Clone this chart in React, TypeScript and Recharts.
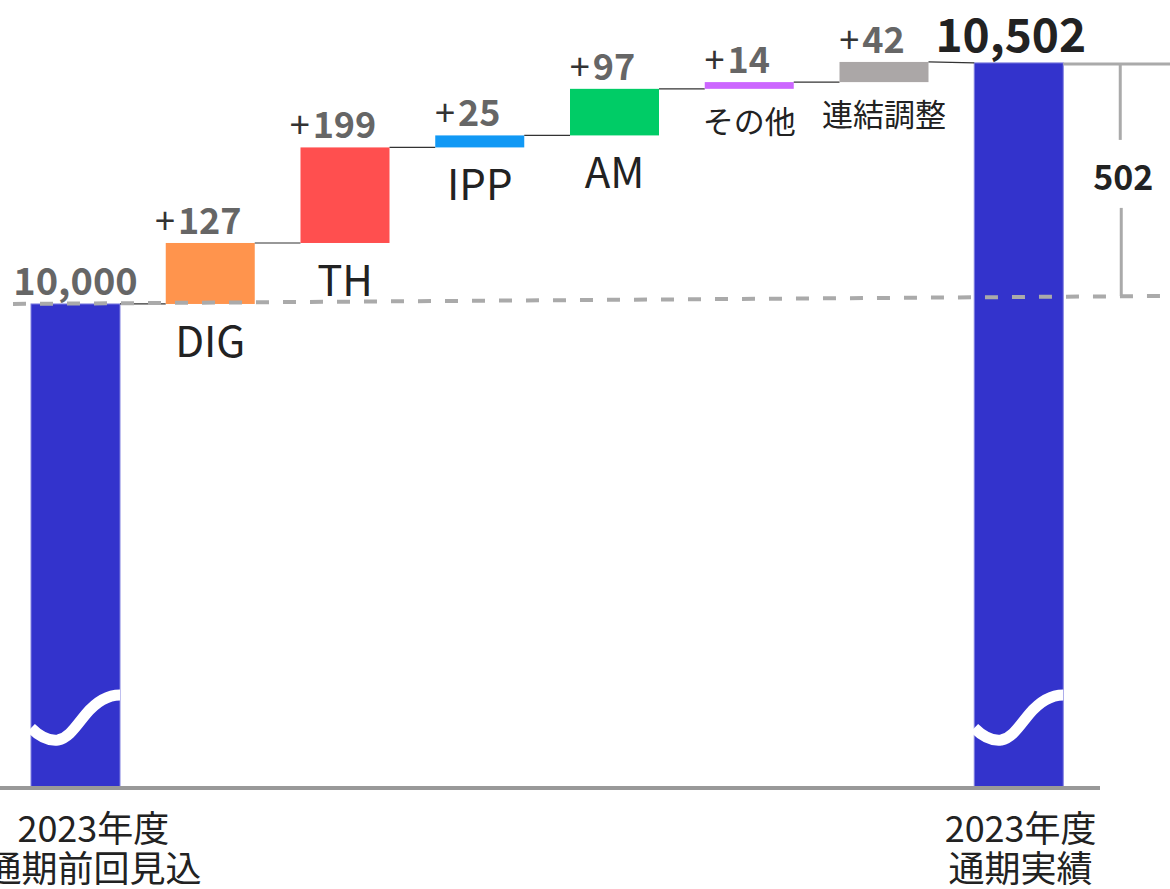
import React from 'react'
import { BarChart, Bar, XAxis, YAxis, ReferenceLine } from 'recharts'

const categories = ['2023年度\n通期前回見込', 'DIG', 'TH', 'IPP', 'AM', 'その他', '連結調整', '2023年度\n通期実績']
const startValue = 10000
const deltas = [127, 199, 25, 97, 14, 42]
const endValue = 10502
const colors = ['#3333CC', '#FF944D', '#FF4F4F', '#1199F5', '#00CC66', '#CC66FF', '#ABA7A7', '#3333CC']

// broken axis: visible window of the value axis
const Y_MIN = 8992
const Y_MAX = 10633

const W = 1170
const H = 889
const X_AXIS_H = 30
const MARGIN = { top: 0, right: 70, bottom: 101 - X_AXIS_H, left: 0 }
const PAD = { left: 8, right: 14 }
const BAR_W = 89
const STEP = (W - MARGIN.left - MARGIN.right - PAD.left - PAD.right) / categories.length
const GAP = STEP - BAR_W
const FONT = '"Noto Sans CJK JP", "Noto Sans", sans-serif'

type Row = { name: string; range: [number, number]; value: number; kind: 'total' | 'delta'; prev: number }

let level = startValue
const data: Row[] = categories.map((name, i) => {
  if (i === 0) return { name, range: [Y_MIN, startValue], value: startValue, kind: 'total', prev: startValue }
  if (i === categories.length - 1) return { name, range: [Y_MIN, endValue], value: endValue, kind: 'total', prev: level }
  const d = deltas[i - 1]
  const row: Row = { name, range: [level, level + d], value: d, kind: 'delta', prev: level }
  level += d
  return row
})

const isLatin = (s: string) => /^[A-Za-z]+$/.test(s)

function WaterfallShape(props: any) {
  const { x, y, width, height, index } = props
  const row = data[index]
  const cx = x + width / 2
  const bottom = y + height
  const color = colors[index]

  if (row.kind === 'total') {
    const last = index === data.length - 1
    const pxPerUnit = height / (row.range[1] - row.range[0])
    const yc = bottom - 70
    const k = width / 89
    const wave = `M ${x} ${yc + 10} C ${x + 10 * k} ${yc + 20}, ${x + 18 * k} ${yc + 23}, ${x + 27 * k} ${yc + 22} C ${x + 38 * k} ${yc + 20}, ${x + 45 * k} ${yc + 8}, ${x + 55 * k} ${yc - 4} C ${x + 66 * k} ${yc - 17}, ${x + 78 * k} ${yc - 23}, ${x + width} ${yc - 23}`
    const prevY = y - (row.prev - row.value) * pxPerUnit
    const baseY = y + (row.value - startValue) * pxPerUnit
    const bx = x + width + 57
    return (
      <g>
        <rect x={x} y={y} width={width} height={height} fill={color} stroke="#8080e0" strokeWidth={1} />
        <path d={wave} fill="none" stroke="#fff" strokeWidth={11} />
        {last && <line x1={x - GAP} y1={prevY} x2={x} y2={y} stroke="#333" strokeWidth={1.2} />}
        {last && (
          <g>
            <line x1={x + width} y1={y + 1} x2={W} y2={y + 1} stroke="#aaa" strokeWidth={3} />
            <line x1={bx} y1={y + 1} x2={bx} y2={y + 77} stroke="#aaa" strokeWidth={3} />
            <line x1={bx + 1} y1={y + 145} x2={bx + 1} y2={baseY - 8} stroke="#aaa" strokeWidth={3} />
            <text x={bx + 3} y={y + 127} textAnchor="middle" fontSize={34} fontWeight="bold" fill="#222" fontFamily={FONT}>
              {endValue - startValue}
            </text>
          </g>
        )}
        <text
          x={last ? cx - 8 : cx}
          y={last ? y - 11 : y - 9}
          textAnchor="middle"
          fontSize={last ? 46 : 38}
          fontWeight="bold"
          fill={last ? '#222' : '#666'}
          fontFamily={FONT}
        >
          {row.value.toLocaleString('en-US')}
        </text>
      </g>
    )
  }

  const latin = isLatin(row.name)
  return (
    <g>
      <line x1={x - GAP} y1={bottom} x2={x} y2={bottom} stroke="#333" strokeWidth={1.2} />
      <rect x={x} y={y} width={width} height={height} fill={color} />
      <text x={cx - 12} y={y - 9} textAnchor="middle" fontSize={36} fontWeight="bold" fontFamily={FONT}>
        <tspan fill="#333" fontWeight="normal">+</tspan>
        <tspan fill="#666" dx={3}>{row.value}</tspan>
      </text>
      <text
        x={cx}
        y={bottom + (latin ? 53 : 44)}
        textAnchor="middle"
        fontSize={latin ? 42 : 31}
        fill="#222"
        fontFamily={FONT}
      >
        {row.name}
      </text>
    </g>
  )
}

function BottomTick(props: any) {
  const { x, y, payload, index } = props
  if (index !== 0 && index !== categories.length - 1) return null
  const lines = String(payload.value).split('\n')
  const tx = index === 0 ? x + 18 : x + 2
  return (
    <g>
      {lines.map((l, i) => (
        <text key={i} x={tx} y={y + 54 + i * 40} textAnchor="middle" fontSize={36} fill="#222" fontFamily={FONT}>
          {l}
        </text>
      ))}
    </g>
  )
}

function DashedBase(props: any) {
  const { y1 } = props
  return <line x1={13} y1={y1} x2={W} y2={y1 - 8} stroke="#aaa" strokeWidth={4} strokeDasharray="13 14" />
}

export default function App() {
  return (
    <div style={{ position: 'absolute', left: 0, top: 0, width: W, height: H, background: '#fff' }}>
      <BarChart width={W} height={H} data={data} margin={MARGIN} barSize={BAR_W}>
        <XAxis
          dataKey="name"
          height={X_AXIS_H}
          padding={PAD}
          interval={0}
          tickLine={false}
          tickSize={0}
          tickMargin={0}
          axisLine={{ stroke: '#999', strokeWidth: 4 }}
          tick={<BottomTick />}
        />
        <YAxis hide type="number" domain={[Y_MIN, Y_MAX]} allowDataOverflow />
        <Bar dataKey="range" isAnimationActive={false} shape={<WaterfallShape />} />
        <ReferenceLine y={startValue} shape={<DashedBase />} />
      </BarChart>
    </div>
  )
}
